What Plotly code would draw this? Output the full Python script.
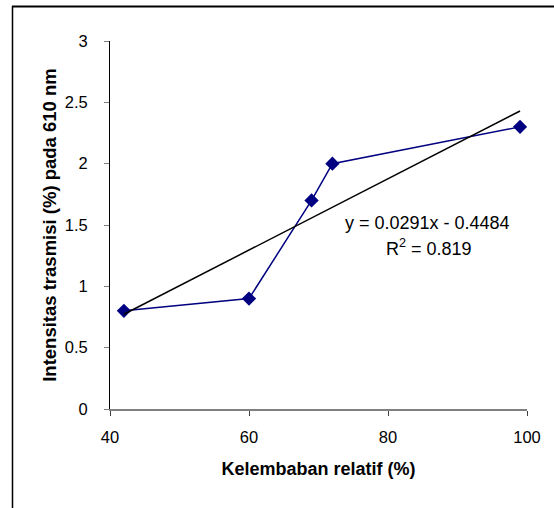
import numpy as np
import plotly.graph_objects as go

# Data
humidity = [42, 60, 69, 72, 99]
transmission = [0.8, 0.9, 1.7, 2.0, 2.3]
x_ticks = [40, 60, 80, 100]
y_ticks = [0, 0.5, 1, 1.5, 2, 2.5, 3]
x_title = "Kelembaban relatif (%)"
y_title = "Intensitas trasmisi (%) pada 610 nm"

# Linear trendline
xa = np.array(humidity, dtype=float)
ya = np.array(transmission, dtype=float)
slope, intercept = np.polyfit(xa, ya, 1)
pred = slope * xa + intercept
r2 = 1 - np.sum((ya - pred) ** 2) / np.sum((ya - ya.mean()) ** 2)
trend_x = [xa.min(), xa.max()]
trend_y = [slope * v + intercept for v in trend_x]
sign = "-" if intercept < 0 else "+"
eq_text = f"y = {slope:.4f}x {sign} {abs(intercept):.4f}"
r2_text = f"R<sup>2</sup> = {r2:.3f}"

FONT = "Liberation Sans, Arial, sans-serif"

W, H = 554, 508
L, R, T, B = 110, 27, 41, 99
pw, ph = W - L - R, H - T - B

def px_x(p):
    return (p - L) / pw

def px_y(p):
    return (H - B - p) / ph

fig = go.Figure()

# chart-area border (top and left edges visible; right/bottom run off the page)
fig.add_shape(type="line", xref="paper", yref="paper",
              x0=px_x(12), x1=px_x(W), y0=px_y(6.5), y1=px_y(6.5),
              line=dict(color="black", width=2))
fig.add_shape(type="line", xref="paper", yref="paper",
              x0=px_x(12.5), x1=px_x(12.5), y0=px_y(6), y1=px_y(H),
              line=dict(color="black", width=1.5))

fig.add_trace(go.Scatter(
    x=humidity, y=transmission, mode="lines+markers",
    line=dict(color="#000080", width=1.5),
    marker=dict(symbol="diamond", size=11, color="#000080"),
    showlegend=False, hoverinfo="skip",
))
fig.add_trace(go.Scatter(
    x=trend_x, y=trend_y, mode="lines",
    line=dict(color="#000000", width=1.5),
    showlegend=False, hoverinfo="skip",
))

fig.add_annotation(x=85.75, y=1.514, xref="x", yref="y", text=eq_text,
                   showarrow=False, xanchor="center", yanchor="middle",
                   font=dict(family=FONT, size=18, color="black"))
fig.add_annotation(x=85.9, y=1.313, xref="x", yref="y", text=r2_text,
                   showarrow=False, xanchor="center", yanchor="middle",
                   font=dict(family=FONT, size=18, color="black"))

fig.update_layout(
    width=W, height=H,
    margin=dict(l=L, r=R, t=T, b=B, pad=0, autoexpand=False),
    paper_bgcolor="white", plot_bgcolor="white",
    font=dict(family=FONT, size=16, color="black"),
    xaxis=dict(
        range=[40, 100], tickvals=x_ticks, ticktext=[str(v) for v in x_ticks],
        showgrid=False, zeroline=False, automargin=False,
        showline=True, linecolor="#808080", linewidth=2,
        ticks="outside", ticklen=5, tickcolor="#404040", tickwidth=1,
        ticklabelstandoff=7,
        tickfont=dict(family=FONT, size=16.5),
        title=dict(text="<b>" + x_title + "</b>", standoff=18,
                   font=dict(family=FONT, size=18)),
    ),
    yaxis=dict(
        range=[0, 3], tickvals=y_ticks, ticktext=[f"{v:g}" for v in y_ticks],
        showgrid=False, zeroline=False, automargin=False,
        showline=True, linecolor="#000000", linewidth=1,
        ticks="outside", ticklen=5, tickcolor="#808080", tickwidth=1,
        ticklabelstandoff=13,
        tickfont=dict(family=FONT, size=16.5),
        title=dict(text="<b>" + y_title + "</b>", standoff=3,
                   font=dict(family=FONT, size=18.5)),
    ),
)

fig.write_html(
    "out.html",
    config={"displayModeBar": False},
    post_script="document.body.style.margin='0';document.body.style.padding='0';"
                "document.documentElement.style.overflow='hidden';",
)
